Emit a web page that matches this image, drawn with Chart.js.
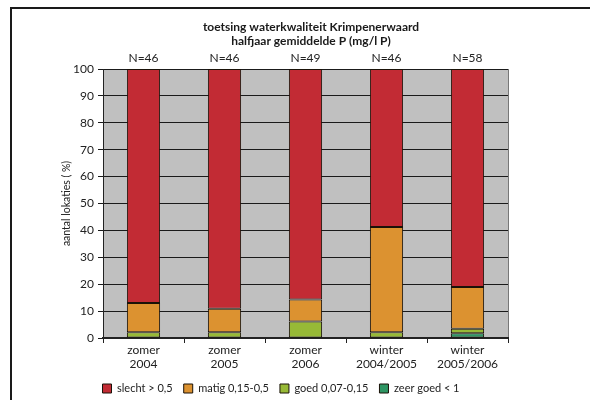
<!DOCTYPE html>
<html>
<head>
<meta charset="utf-8">
<script src="https://cdn.jsdelivr.net/npm/chart.js@4.4.0/dist/chart.umd.min.js"></script>
<style>
  html, body { margin: 0; padding: 0; background: #fff; overflow: hidden; }
  #kader { position: absolute; left: 10px; top: 7px; width: 620px; height: 440px; border: 2px solid #1a1a1a; }
  #wrap { position: absolute; left: 0; top: 0; width: 590px; height: 400px; }
</style>
</head>
<body>
<div id="kader"></div>
<div id="wrap"><canvas id="grafiek" width="590" height="400"></canvas></div>
<script>
// percentages per periode (N locaties)
const perioden = [["zomer", "2004"], ["zomer", "2005"], ["zomer", "2006"], ["winter", "2004/2005"], ["winter", "2005/2006"]];
const aantallen = ["N=46", "N=46", "N=49", "N=46", "N=58"];
const zeerGoed = [0, 0, 0, 0, 1.72];
const goed = [2.17, 2.17, 6.12, 2.17, 1.72];
const matig = [10.87, 8.70, 8.16, 39.13, 15.52];
const slecht = [86.96, 89.13, 85.71, 58.70, 81.03];
const titelRegels = ["toetsing waterkwaliteit Krimpenerwaard", "halfjaar gemiddelde P (mg/l P)"];

const fontNaam = "Lato, 'Open Sans', sans-serif";

// grijze achtergrond, titel en N-labels
const extraTekening = {
  id: "extraTekening",
  beforeDraw(chart) {
    const { ctx, chartArea: a } = chart;
    ctx.save();
    ctx.fillStyle = "#c0c0c0";
    ctx.fillRect(a.left, a.top, a.right - a.left, a.bottom - a.top);
    ctx.strokeStyle = "#777";
    ctx.lineWidth = 1;
    ctx.beginPath();
    ctx.moveTo(a.right + 0.5, a.top);
    ctx.lineTo(a.right + 0.5, a.bottom);
    ctx.stroke();
    ctx.restore();
  },
  afterDraw(chart) {
    const { ctx, chartArea: a } = chart;
    const x = chart.scales.x;
    ctx.save();
    ctx.fillStyle = "#1a1a1a";
    ctx.textAlign = "center";
    ctx.textBaseline = "middle";
    ctx.font = "bold 12px " + fontNaam;
    titelRegels.forEach((r, i) => ctx.fillText(r, 311, 27 + i * 14));
    ctx.font = "12px " + fontNaam;
    ctx.fillStyle = "#222";
    aantallen.forEach((n, i) => ctx.fillText(n, x.getPixelForValue(i), a.top - 11));
    ctx.restore();
  }
};

new Chart(document.getElementById("grafiek"), {
  type: "bar",
  data: {
    labels: perioden,
    datasets: [
      { label: "zeer goed < 1", data: zeerGoed, backgroundColor: "#2e9563" },
      { label: "goed 0,07-0,15", data: goed, backgroundColor: "#97b936" },
      { label: "matig 0,15-0,5", data: matig, backgroundColor: "#dc9230" },
      { label: "slecht > 0,5", data: slecht, backgroundColor: "#c22b34" }
    ].map(d => Object.assign(d, {
      borderColor: "#1a1208",
      borderWidth: 1,
      borderSkipped: false,
      barPercentage: 0.41,
      categoryPercentage: 1
    }))
  },
  options: {
    responsive: false,
    animation: false,
    layout: { padding: { top: 69, right: 82, left: 54, bottom: -4 } },
    plugins: {
      title: { display: false },
      tooltip: { enabled: false },
      legend: {
        position: "bottom",
        reverse: true,
        labels: {
          boxWidth: 9,
          boxHeight: 9,
          padding: 11,
          color: "#222",
          font: { family: fontNaam, size: 11 }
        }
      }
    },
    scales: {
      x: {
        stacked: true,
        offset: true,
        grid: { display: true, drawOnChartArea: false, offset: true, tickLength: 5, color: "#222" },
        border: { display: true, color: "#222", width: 2 },
        ticks: { color: "#222", font: { family: fontNaam, size: 12 }, padding: 0, maxRotation: 0 },
        afterFit(s) { s.height = 34; }
      },
      y: {
        stacked: true,
        min: 0,
        max: 100,
        ticks: { stepSize: 10, color: "#222", font: { family: fontNaam, size: 12 }, padding: 4 },
        grid: { color: "#1a1a1a", tickLength: 5 },
        border: { display: true, color: "#222", width: 1 },
        title: {
          display: true,
          text: "aantal lokaties ( %)",
          color: "#222",
          font: { family: fontNaam, size: 10.5 },
          padding: 6
        },
        afterFit(s) { s.width = 49; }
      }
    }
  },
  plugins: [extraTekening]
});
</script>
</body>
</html>
